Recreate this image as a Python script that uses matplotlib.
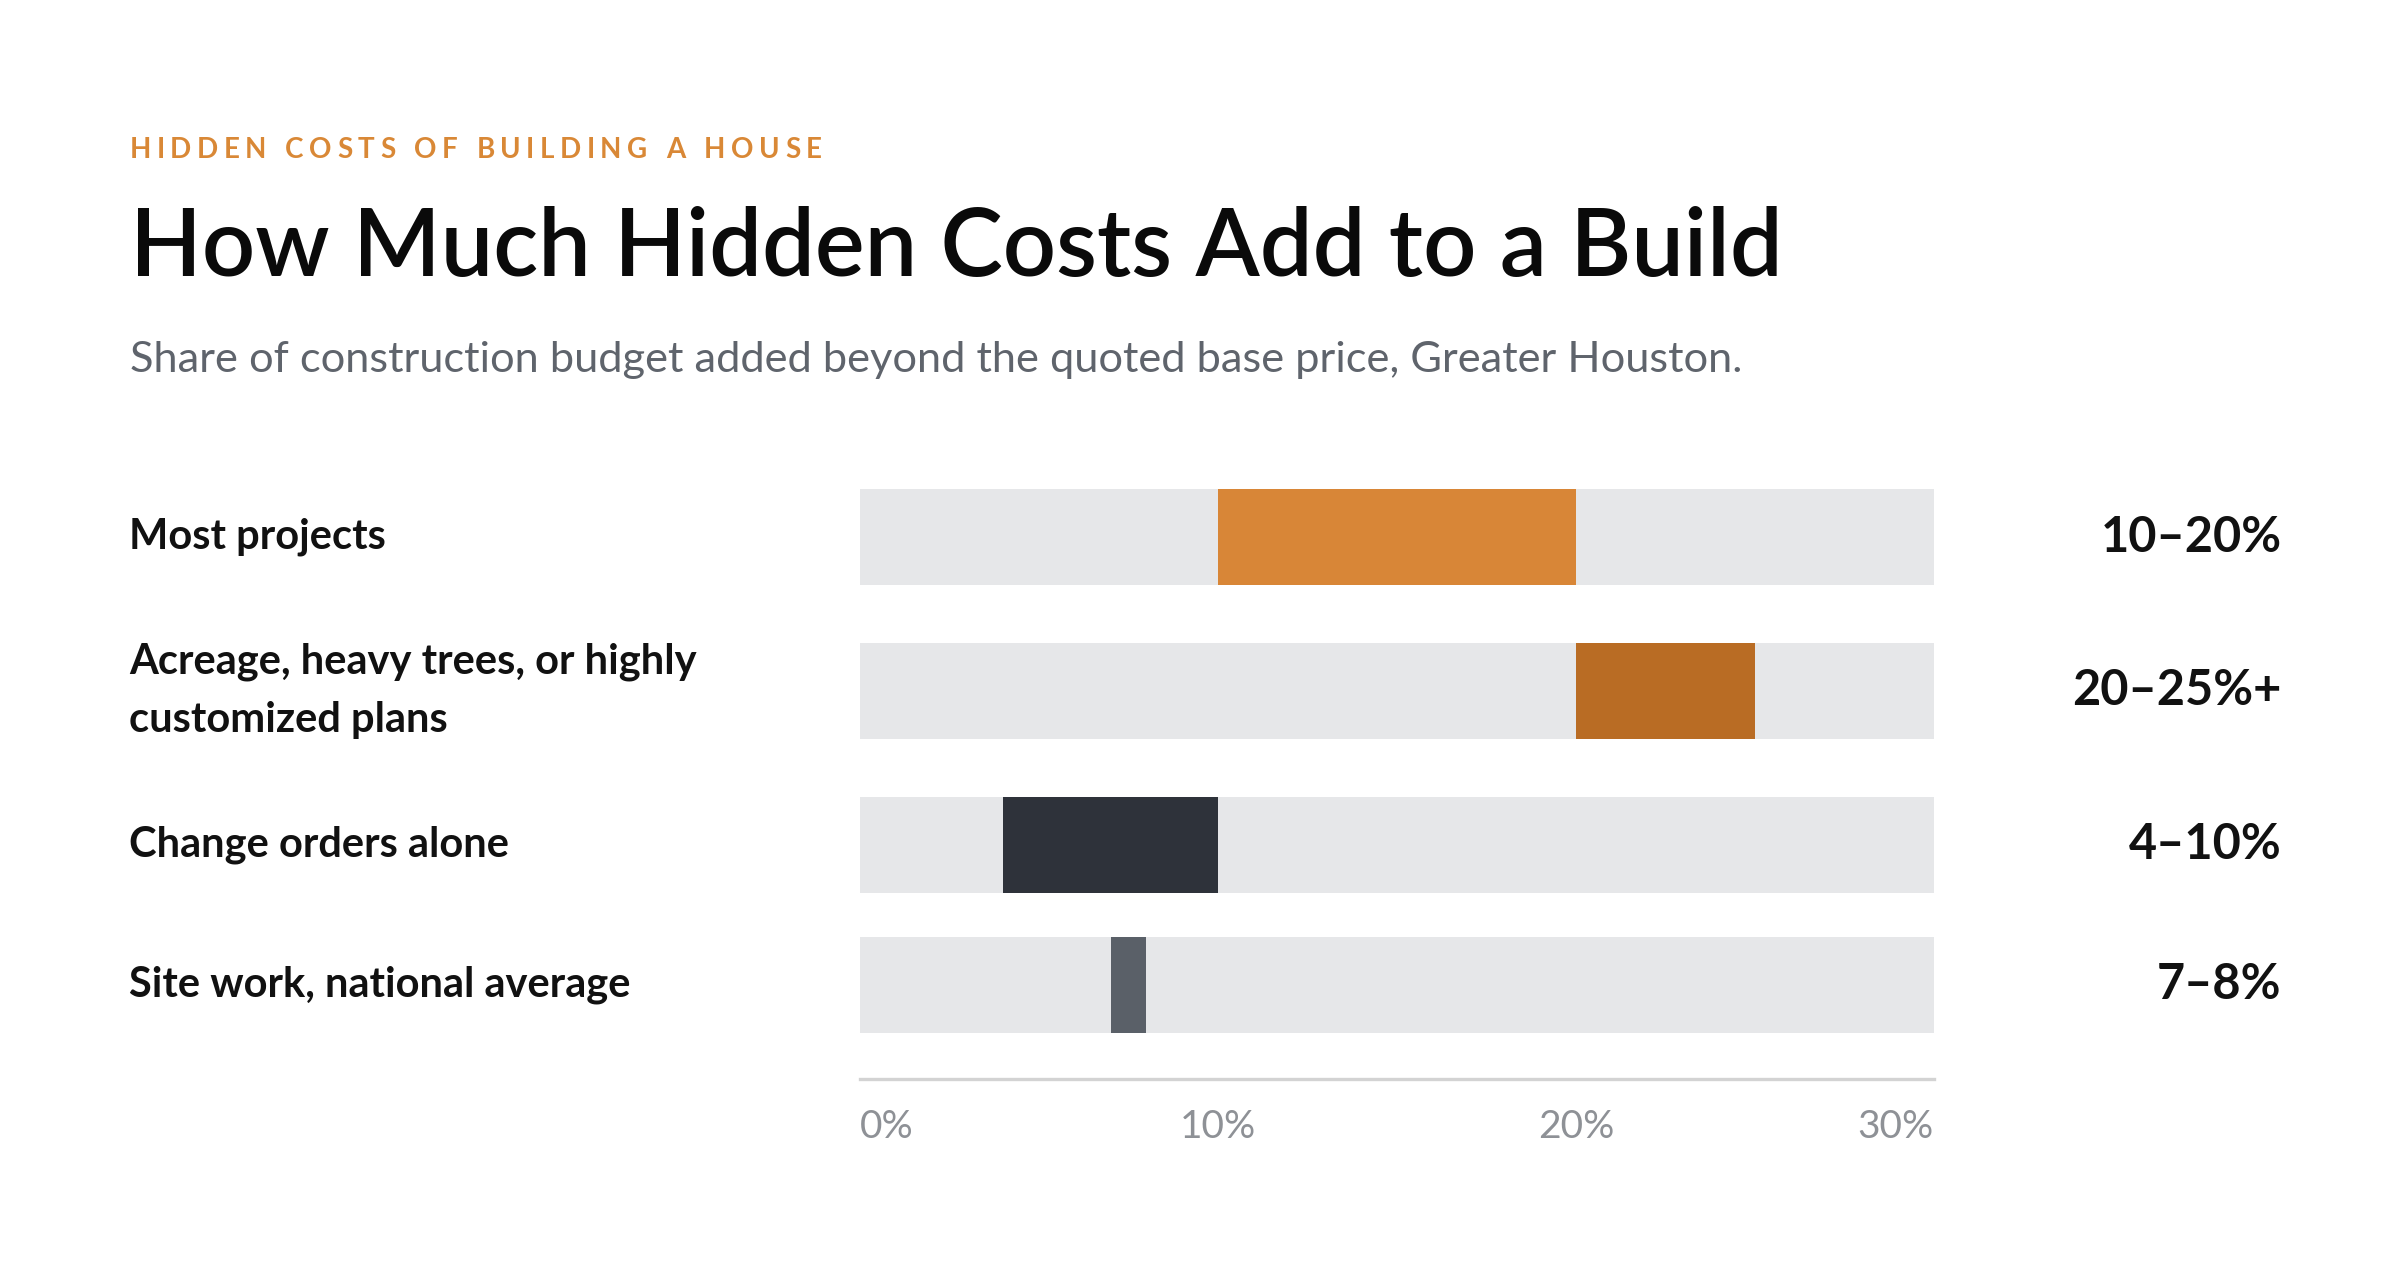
import matplotlib
matplotlib.use('Agg')
import matplotlib.pyplot as plt

plt.rcParams['font.family'] = ['Lato', 'DejaVu Sans']

labels = ['Most projects',
          'Acreage, heavy trees, or highly\ncustomized plans',
          'Change orders alone',
          'Site work, national average']
low = [10, 20, 4, 7]
high = [20, 25, 10, 8]
range_text = ['10–20%', '20–25%+', '4–10%', '7–8%']
ticks = [0, 10, 20, 30]
tick_labels = ['0%', '10%', '20%', '30%']

eyebrow = 'HIDDEN COSTS OF BUILDING A HOUSE'
title = 'How Much Hidden Costs Add to a Build'
subtitle = 'Share of construction budget added beyond the quoted base price, Greater Houston.'

bar_colors = ['#D88637', '#B96C24', '#2E323A', '#5A6068']
track_color = '#E6E7E9'

fig = plt.figure(figsize=(12, 6.41), dpi=200)
fig.patch.set_facecolor('white')

# eyebrow, drawn letter by letter to get the wide tracking
renderer = fig.canvas.get_renderer()
x = 0.054
for ch in eyebrow:
    t = fig.text(x, 0.883, ch, fontsize=10, fontweight='bold', color='#D98836',
                 va='center', ha='left')
    w = t.get_window_extent(renderer=renderer).width
    if ch == ' ':
        w = 10 * 200 / 72 * 0.28
    x += (w + 5.5) / fig.bbox.width

fig.text(0.054, 0.806, title, fontsize=33.7, fontweight='semibold', color='#0A0A0A',
         va='center', ha='left')
fig.text(0.054, 0.719, subtitle, fontsize=15.6, color='#5F646C',
         va='center', ha='left')

ax = fig.add_axes([0.3583, 0.1585, 0.4475, 0.4598])
rows = [0, 100, 200, 291]
for i, y in enumerate(rows):
    ax.barh(y, 30, left=0, height=62, color=track_color, linewidth=0)
    ax.barh(y, high[i] - low[i], left=low[i], height=62,
            color=bar_colors[i], linewidth=0)
    ax.text(-0.6805, y, labels[i], transform=ax.get_yaxis_transform(),
            fontsize=15, fontweight='bold', color='#111111',
            ha='left', va='center', linespacing=1.65)
    ax.text(1.3238, y, range_text[i], transform=ax.get_yaxis_transform(),
            fontsize=17.5, fontweight='bold', color='#111111',
            ha='right', va='center')

ax.set_xlim(0, 30)
ax.set_ylim(352, -31)
ax.set_xticks(ticks)
ax.set_xticklabels(tick_labels)
for lab, ha in zip(ax.get_xticklabels(), ['left', 'center', 'center', 'right']):
    lab.set_ha(ha)
ax.tick_params(axis='x', length=0, pad=11, labelsize=14, labelcolor='#8E9196')
ax.set_yticks([])
for side in ['top', 'left', 'right']:
    ax.spines[side].set_visible(False)
ax.spines['bottom'].set_color('#D3D3D3')
ax.spines['bottom'].set_linewidth(1.2)
ax.set_facecolor('none')

fig.savefig('out.png', dpi=200, facecolor='white')
